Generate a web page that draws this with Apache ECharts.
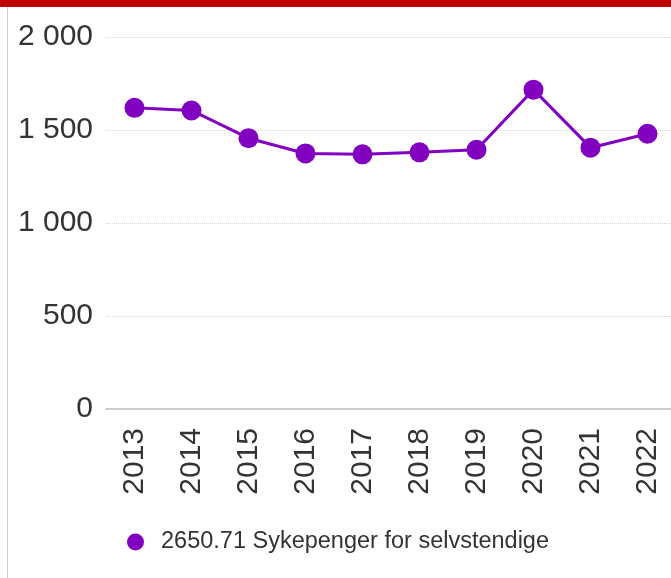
<!DOCTYPE html>
<html>
<head>
<meta charset="utf-8">
<script src="https://cdn.jsdelivr.net/npm/echarts@6/dist/echarts.min.js"></script>
<style>
  html, body { margin: 0; padding: 0; background: #fff; }
  #chart { width: 671px; height: 578px; }
</style>
</head>
<body>
<div id="chart"></div>
<script>
// år og verdier
const years = ["2013", "2014", "2015", "2016", "2017", "2018", "2019", "2020", "2021", "2022"];
const values = [1619, 1605, 1456, 1374, 1369, 1380, 1394, 1717, 1405, 1480];
const seriesName = "2650.71 Sykepenger for selvstendige";
const yTicks = { min: 0, max: 2000, interval: 500 };

const myChart = echarts.init(document.getElementById("chart"));

myChart.setOption({
  animation: false,
  textStyle: { fontFamily: "Liberation Sans, Arial, sans-serif" },
  graphic: [
    { type: "rect", shape: { x: 0, y: 0, width: 671, height: 7 }, style: { fill: "#c00000" } },
    { type: "rect", shape: { x: 7, y: 7, width: 1, height: 571 }, style: { fill: "#cccccc" } },
  ],
  grid: { left: 106, width: 570, top: 37, bottom: 169, outerBoundsMode: "none", containLabel: false },
  legend: {
    left: 122,
    top: 525,
    icon: "circle",
    itemWidth: 17,
    itemHeight: 17,
    textStyle: { fontSize: 23.5, color: "#333", padding: [0, 0, 0, 12] },
    data: [seriesName],
  },
  xAxis: {
    type: "category",
    data: years,
    boundaryGap: true,
    axisLine: { lineStyle: { color: "#cccccc", width: 2 } },
    axisTick: { alignWithLabel: true, length: 8, lineStyle: { color: "#cccccc", width: 2 } },
    axisLabel: { rotate: 90, fontSize: 30, color: "#333", margin: 19 },
  },
  yAxis: {
    type: "value",
    min: yTicks.min,
    max: yTicks.max,
    interval: yTicks.interval,
    axisLine: { show: false },
    axisTick: { show: false },
    axisLabel: {
      fontSize: 30,
      color: "#333",
      margin: 13,
      formatter: (v) => String(v).replace(/\B(?=(\d{3})+(?!\d))/g, " "),
    },
    splitLine: { lineStyle: { color: "#d4d4d4", type: "dotted", width: 1 } },
  },
  series: [
    {
      name: seriesName,
      type: "line",
      data: values,
      symbol: "circle",
      symbolSize: 20,
      color: "#8200c0",
      lineStyle: { width: 3 },
    },
  ],
});
</script>
</body>
</html>
